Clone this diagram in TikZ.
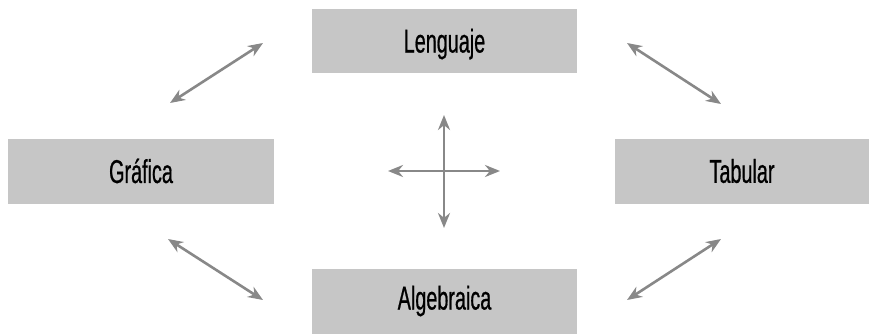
\documentclass[tikz,border=0pt]{standalone}
\usepackage{fontspec}
\setmainfont[FakeStretch=0.6,FakeBold=0.6]{Liberation Sans}
\usetikzlibrary{arrows.meta}
\definecolor{boxgray}{RGB}{198,198,198}
\definecolor{arrowgray}{RGB}{136,136,136}
\tikzset{
  box/.style={fill=boxgray, draw=none, inner sep=0pt},
  label/.style={font=\fontsize{33}{36}\selectfont, text=black},
  twoway/.style={arrowgray, line width=2.6pt,
    {Stealth[length=15pt,width=12pt]}-{Stealth[length=15pt,width=12pt]}}
}
\begin{document}
\begin{tikzpicture}[x=1pt,y=-1pt]
  \useasboundingbox (0,0) rectangle (869,334);

  % the four boxes
  \path[box] (312,9) rectangle (577,73);
  \path[box] (8,139) rectangle (274,204);
  \path[box] (615,139) rectangle (869,204);
  \path[box] (312,269) rectangle (577,334);

  \node[label] (leng) at (444.5,44) {Lenguaje};
  \node[label] (graf) at (141,171) {Gráfica};
  \node[label] (tab) at (742,171) {Tabular};
  \node[label] (alg) at (444.5,301) {Algebraica};

  % ends of the diagonal arrows
  \coordinate (tl1) at (170,103);
  \coordinate (tl2) at (263,43);
  \coordinate (tr1) at (627,43);
  \coordinate (tr2) at (721,104);
  \coordinate (bl1) at (168,239);
  \coordinate (bl2) at (263,300);
  \coordinate (br1) at (721,239);
  \coordinate (br2) at (627,300);

  % ends of the central cross
  \coordinate (cw) at (388,171);
  \coordinate (ce) at (500,171);
  \coordinate (cn) at (444,115);
  \coordinate (cs) at (444,228);

  \draw[twoway] (tl1) -- (tl2);
  \draw[twoway] (tr1) -- (tr2);
  \draw[twoway] (bl1) -- (bl2);
  \draw[twoway] (br1) -- (br2);
  \draw[twoway] (cw) -- (ce);
  \draw[twoway] (cn) -- (cs);
\end{tikzpicture}
\end{document}
